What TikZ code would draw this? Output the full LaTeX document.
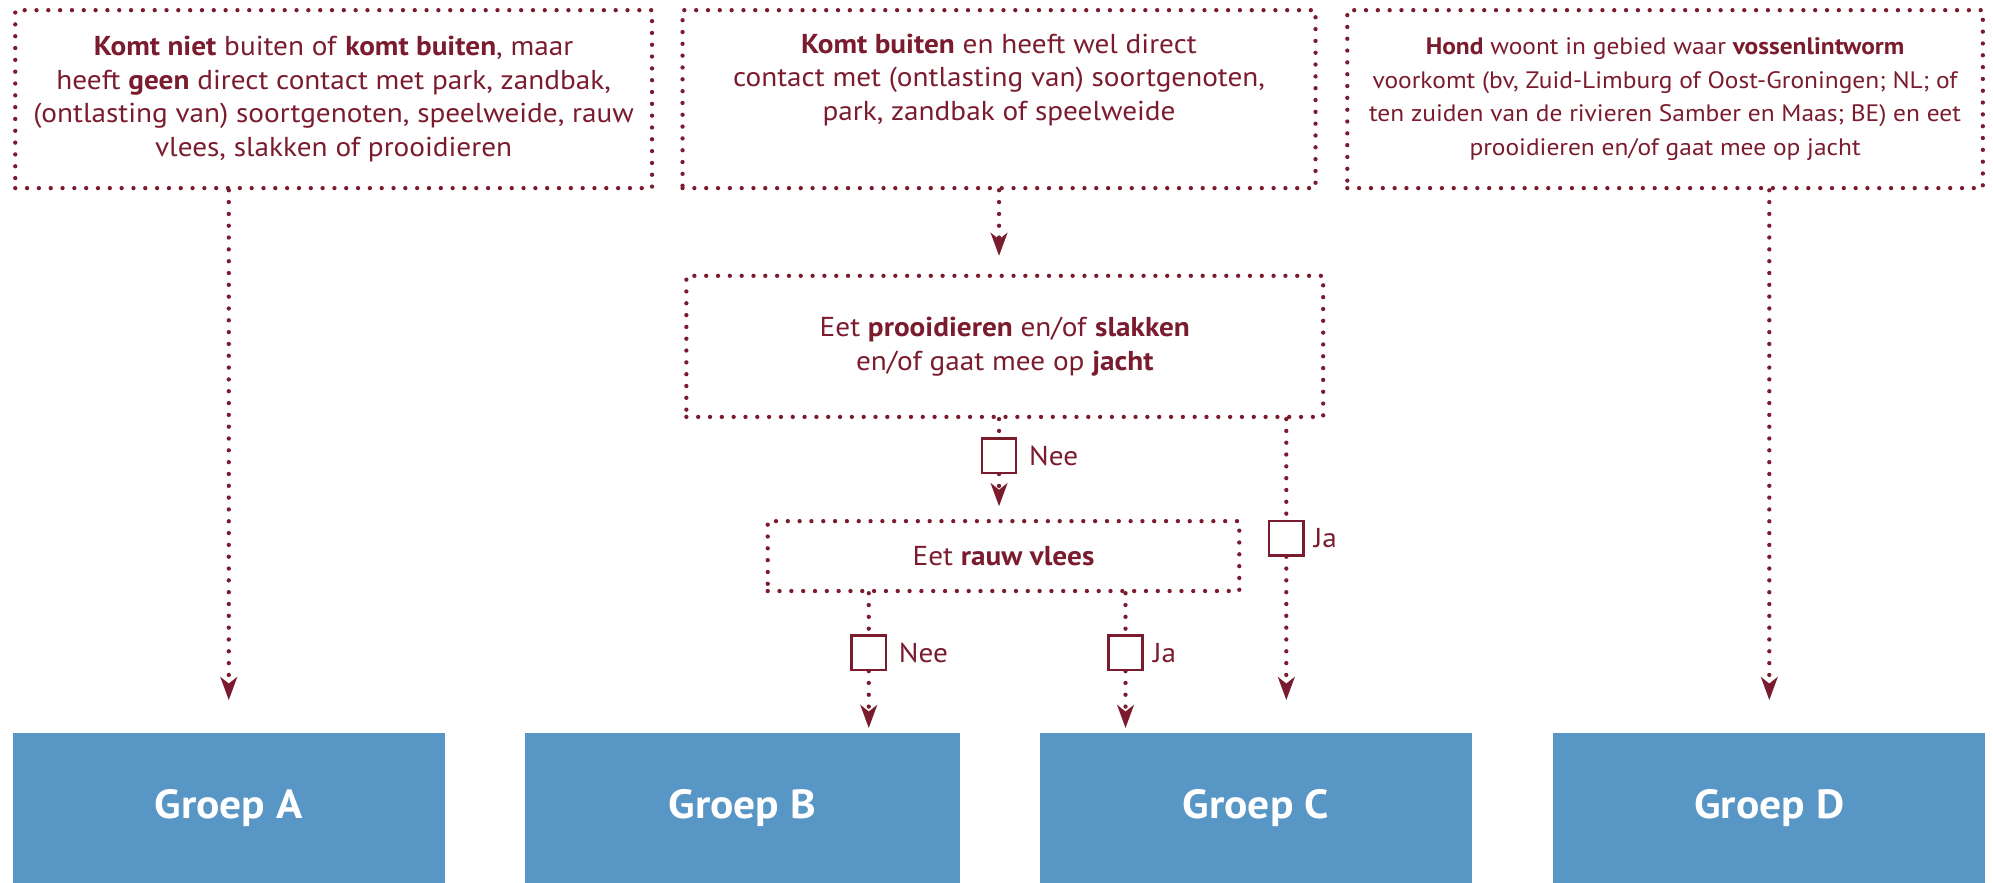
\documentclass[tikz,border=0pt]{standalone}
\usepackage{fontspec}
\setmainfont{PT Sans}[FakeStretch=1.07]
\usetikzlibrary{arrows.meta}
\definecolor{dred}{RGB}{122,28,46}
\definecolor{gblue}{RGB}{88,150,198}
\tikzset{
  dotline/.style={draw=dred, line width=3.4pt, line cap=round, dash pattern=on 0pt off 9.3pt},
  qbox/.style={dotline, rectangle, inner sep=0pt, align=center, text=dred,
     font=\fontsize{21.5}{26.5}\selectfont},
  grp/.style={fill=gblue, draw=none, inner sep=0pt, minimum height=118pt, text=white,
     font=\fontsize{32}{38}\selectfont\bfseries},
  chk/.style={draw=dred, line width=2pt, fill=white, minimum size=27pt, inner sep=0pt},
  lbl/.style={text=dred, inner sep=0pt, anchor=west, font=\fontsize{21.5}{24}\selectfont},
  arr/.style={-{Stealth[length=18pt, width=13pt, inset=5pt]}, dred},
}
\begin{document}
\begin{tikzpicture}[x=1pt, y=-1pt]
\useasboundingbox (0,0) rectangle (1568,694.7);
% top question boxes
\node[qbox, minimum width=501pt, minimum height=140pt] (box1) at (262.5,78)
  {\textbf{Komt niet} buiten of \textbf{komt buiten}, maar\\
   heeft \textbf{geen} direct contact met park, zandbak,\\
   (ontlasting van) soortgenoten, speelweide, rauw\\
   vlees, slakken of prooidieren};
\node[qbox, minimum width=498pt, minimum height=140pt] (box2) at (786,78)
  {\textbf{Komt buiten} en heeft wel direct\\
   contact met (ontlasting van) soortgenoten,\\
   park, zandbak of speelweide\\ \strut};
\node[qbox, minimum width=500pt, minimum height=140pt,
      font=\fontsize{18.7}{26.5}\selectfont] (box3) at (1310,78)
  {\textbf{Hond} woont in gebied waar \textbf{vossenlintworm}\\
   voorkomt (bv, Zuid-Limburg of Oost-Groningen; NL; of\\
   ten zuiden van de rivieren Samber en Maas; BE) en eet\\
   prooidieren en/of gaat mee op jacht};
\node[qbox, minimum width=501pt, minimum height=111pt] (box4) at (790.5,272.5)
  {Eet \textbf{prooidieren} en/of \textbf{slakken}\\
   en/of gaat mee op \textbf{jacht}};
\node[qbox, minimum width=371pt, minimum height=55pt] (box5) at (789.5,437.5)
  {Eet \textbf{rauw vlees}};
% groups
\node[grp, minimum width=340pt] (grpA) at (180,636) {Groep A};
\node[grp, minimum width=342pt] (grpB) at (584,636) {Groep B};
\node[grp, minimum width=340pt] (grpC) at (988,636) {Groep C};
\node[grp, minimum width=340pt] (grpD) at (1392,636) {Groep D};
% check boxes
\node[chk] (sqN1) at (786,358.5) {};
\node[chk] (sqJ1) at (1012,423.5) {};
\node[chk] (sqN2) at (683.5,513.5) {};
\node[chk] (sqJ2) at (885.5,513.5) {};
\node[lbl] (lN1) at ([xshift=9pt]sqN1.east) {Nee};
\node[lbl] (lJ1) at ([xshift=7pt]sqJ1.east) {Ja};
\node[lbl] (lN2) at ([xshift=9pt]sqN2.east) {Nee};
\node[lbl] (lJ2) at ([xshift=7pt]sqJ2.east) {Ja};
% connectors
\draw[dotline, arr, shorten >=26pt] (box1.south -| grpA.north) -- (grpA.north);
\draw[dotline, arr, shorten >=14pt] (box2.south) -- (box2.south |- box4.north);
\draw[dotline, arr, shorten >=26pt] (box3.south -| grpD.north) -- (grpD.north);
\draw[dotline] (box4.south -| sqN1.north) -- (sqN1.north);
\draw[dotline, arr, shorten >=10pt] (sqN1.south) -- (sqN1.south |- box5.north);
\draw[dotline] (box4.south -| sqJ1.north) -- (sqJ1.north);
\draw[dotline, arr, shorten >=26pt] (sqJ1.south) -- (sqJ1.south |- grpC.north);
\draw[dotline] (box5.south -| sqN2.north) -- (sqN2.north);
\draw[dotline, arr, shorten >=4pt] (sqN2.south) -- (sqN2.south |- grpB.north);
\draw[dotline] (box5.south -| sqJ2.north) -- (sqJ2.north);
\draw[dotline, arr, shorten >=4pt] (sqJ2.south) -- (sqJ2.south |- grpC.north);
\end{tikzpicture}
\end{document}
